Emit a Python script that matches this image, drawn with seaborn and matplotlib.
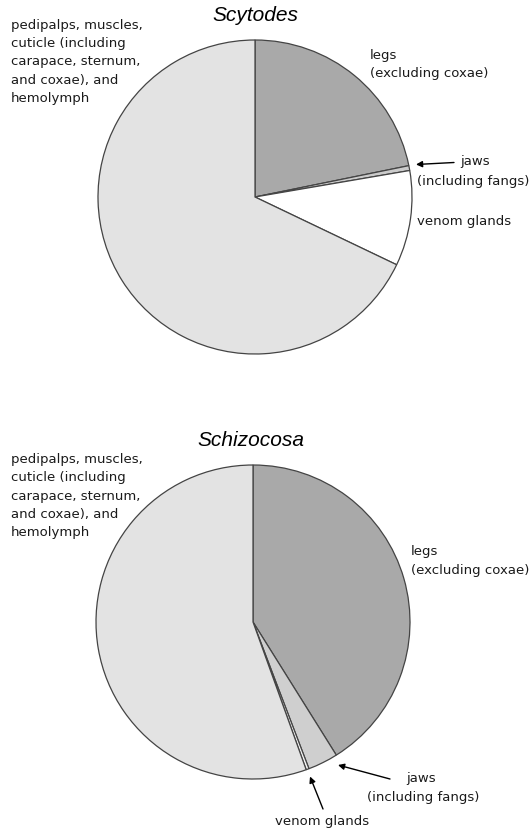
import matplotlib
matplotlib.use("Agg")
import matplotlib.pyplot as plt
import seaborn as sns

sns.set_theme(style="white")
plt.rcParams['font.family'] = ['DejaVu Sans']
plt.rcParams['text.color'] = '#1a1a1a'

# data (percent of body mass)
parts = ["legs", "jaws", "venom glands", "rest"]
scytodes_vals = [21.8, 0.5, 9.8, 67.9]
schizocosa_vals = [41.1, 3.1, 0.3, 55.5]
titles = ["Scytodes", "Schizocosa"]
colors_top = ["#a9a9a9", "#cbcbcb", "#ffffff", "#e3e3e3"]
colors_bot = ["#a9a9a9", "#cfcfcf", "#f4f4f4", "#e3e3e3"]
rest_label = "pedipalps, muscles,\ncuticle (including\ncarapace, sternum,\nand coxae), and\nhemolymph"

W, H = 531, 830
fig = plt.figure(figsize=(W / 100, H / 100), dpi=100)
ax = fig.add_axes([0, 0, 1, 1])

def Y(y):
    return H - y

R = 157
wp = dict(edgecolor="#444444", linewidth=0.9)
ax.pie(scytodes_vals, colors=colors_top, startangle=90, counterclock=False,
       radius=R, center=(255, Y(197)), wedgeprops=wp, frame=True)
ax.pie(schizocosa_vals, colors=colors_bot, startangle=90, counterclock=False,
       radius=R, center=(253, Y(622)), wedgeprops=wp, frame=True)

ax.set_xlim(0, W)
ax.set_ylim(0, H)
ax.set_aspect("equal", adjustable="box")
ax.axis("off")

fs = 9.5
tfont = dict(family=["Liberation Sans", "DejaVu Sans"], style="italic", fontsize=15, color="black")
ax.text(255, Y(16), titles[0], ha="center", va="center", **tfont)
ax.text(251, Y(440), titles[1], ha="center", va="center", **tfont)

ax.text(11, Y(62), rest_label, ha="left", va="center", fontsize=fs, linespacing=1.53)
ax.text(11, Y(496), rest_label, ha="left", va="center", fontsize=fs, linespacing=1.53)

# top labels
ax.text(370, Y(64.5), "legs\n(excluding coxae)", ha="left", va="center", fontsize=fs, linespacing=1.55)
ax.text(460, Y(162), "jaws", ha="left", va="center", fontsize=fs)
ax.text(417, Y(182), "(including fangs)", ha="left", va="center", fontsize=fs)
ax.text(417, Y(221), "venom glands", ha="left", va="center", fontsize=fs)
arrow = dict(arrowstyle="-|>", color="black", lw=1.0, mutation_scale=9, shrinkA=0, shrinkB=0)
ax.annotate("", xy=(416, Y(164.5)), xytext=(454, Y(162.5)), arrowprops=arrow)

# bottom labels
ax.text(411, Y(561), "legs\n(excluding coxae)", ha="left", va="center", fontsize=fs, linespacing=1.55)
ax.text(421, Y(778), "jaws", ha="center", va="center", fontsize=fs)
ax.text(423, Y(797), "(including fangs)", ha="center", va="center", fontsize=fs)
ax.text(322, Y(821), "venom glands", ha="center", va="center", fontsize=fs)
ax.annotate("", xy=(338, Y(765)), xytext=(390, Y(779)), arrowprops=arrow)
ax.annotate("", xy=(310, Y(776.5)), xytext=(323, Y(809)), arrowprops=arrow)

fig.savefig("out.png", dpi=100, facecolor="white")
